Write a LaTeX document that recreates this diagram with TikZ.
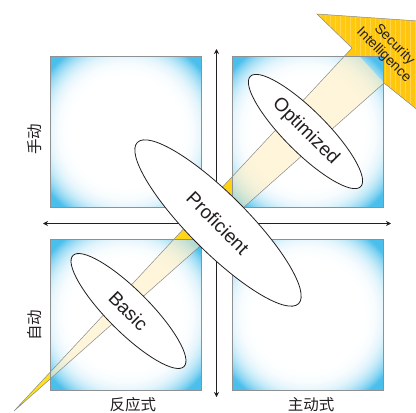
\documentclass[tikz,border=0pt]{standalone}
\usepackage{fontspec}
\setmainfont{Liberation Sans}
\newfontfamily\cjk{Noto Sans CJK SC}
\usetikzlibrary{shapes.geometric,arrows.meta}
\definecolor{ink}{HTML}{231F20}
\definecolor{boxline}{HTML}{8E9092}
\definecolor{gold}{HTML}{FFC20E}
\definecolor{lemon}{HTML}{FFE31A}
\definecolor{stripe}{HTML}{FFD54A}
\definecolor{cream}{HTML}{FFEFC2}
\definecolor{beamedge}{HTML}{8A8A8A}
\definecolor{skyA}{HTML}{4BBFEC}
\tikzset{
  quad/.style={rectangle, minimum size=150pt, inner sep=0pt,
    path picture={
      \foreach \i in {0,...,44} {
        \pgfmathsetmacro\rr{106-1.4*\i}
        \pgfmathsetmacro\pp{100*pow(max(0.001,min(1,(\rr-50)/48)),3.2)}
        \fill[skyA!\pp!white] (path picture bounding box.center) circle [radius=\rr pt];
      }
    }},
  boxedge/.style={draw=boxline, line width=0.8pt},
  axisline/.style={draw=ink, line width=1.1pt, {Stealth[length=5pt,width=5pt]}-{Stealth[length=5pt,width=5pt]}},
  stage/.style={ellipse, draw=ink, fill=white, line width=0.8pt, inner sep=0pt, rotate=-45, font=\fontsize{19}{19}\selectfont, text=ink},
  zhlabel/.style={font=\cjk\fontsize{15.5}{16}\selectfont, text=ink, inner sep=0pt},
  beamline/.style={draw=beamedge, line width=0.5pt},
}
\begin{document}
\begin{tikzpicture}[x=1pt,y=-1pt]
\useasboundingbox (0,0) rectangle (416,413);
\clip (0,0) rectangle (416,413);
\fill[white] (0,0) rectangle (416,413);
% beam and arrow head
\coordinate (bt) at (14,411);
\coordinate (bul) at (352,48);
\coordinate (blr) at (384,83);
\coordinate (hl) at (317,14);
\coordinate (htip) at (440,22.5);
\coordinate (hbot) at (440,128);
\shade[left color=lemon, right color=gold] (bt) -- (bul) -- (hl) -- (htip) -- (hbot) -- (blr) -- cycle;
\begin{scope}
\clip (bul) -- (hl) -- (htip) -- (hbot) -- (blr) -- cycle;
\foreach \x in {320,325,...,420} \draw[stripe, line width=0.5pt] (\x,0) -- (\x,130);
\end{scope}
% quadrants
\node[quad] (tl) at (126,132) {};
\node[quad] (tr) at (308,132) {};
\node[quad] (bl) at (126,315) {};
\node[quad] (br) at (308,315) {};
\begin{scope}
\clip (tl.north west) rectangle (tl.south east) (tr.north west) rectangle (tr.south east)
      (bl.north west) rectangle (bl.south east) (br.north west) rectangle (br.south east);
\fill[cream, fill opacity=0.6] (bt) -- (bul) -- (blr) -- cycle;
\end{scope}
\foreach \q in {tl,tr,bl,br} \draw[boxedge] (\q.north west) rectangle (\q.south east);
\draw[beamline] (bt) -- (bul) -- (hl) -- (htip) -- (hbot) -- (blr) -- cycle;
% axes
\coordinate (axL) at (43,223.5);
\coordinate (axR) at (391,223.5);
\coordinate (axT) at (216.5,49);
\coordinate (axB) at (216.5,397);
\draw[axisline] (axL) -- (axR);
\draw[axisline] (axB) -- (axT);
% stages
\node[stage, minimum width=157pt, minimum height=42pt] (basic) at (128.5,311) {Basic};
\node[stage, minimum width=156pt, minimum height=42pt] (opt) at (305.5,131.5) {Optimized};
\node[stage, minimum width=228pt, minimum height=58pt] (prof) at (218,223) {Proficient};
% labels
\node[zhlabel, rotate=90] (manual) at (35,139) {手动};
\node[zhlabel, rotate=90] (auto) at (35,325) {自动};
\node[zhlabel] (react) at (133,405) {反应式};
\node[zhlabel] (proact) at (311,405) {主动式};
\node[rotate=-45, align=center, font=\fontsize{14}{15}\selectfont, text=ink, inner sep=0pt] (si) at (389,50) {Security\\Intelligence};
\end{tikzpicture}
\end{document}
